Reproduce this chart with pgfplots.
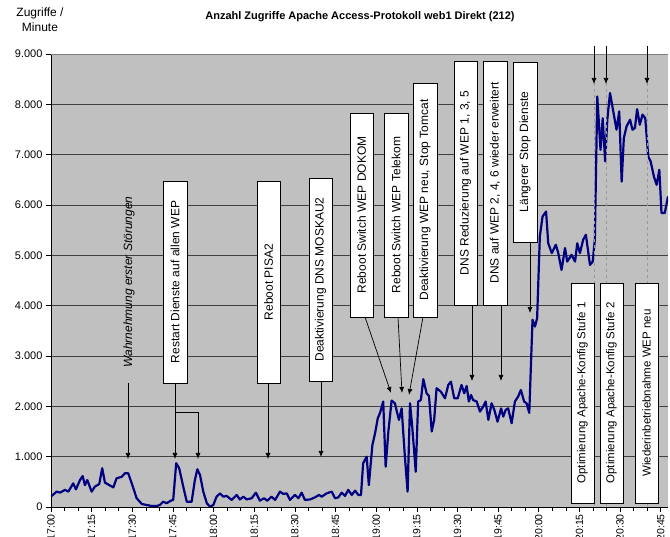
\documentclass[border=0pt]{standalone}
\usepackage{pgfplots}
\pgfplotsset{compat=1.18}
\usepackage{fontspec}
\setmainfont{Liberation Sans}
\usetikzlibrary{arrows.meta}
\definecolor{bgray}{HTML}{C0C0C0}
\definecolor{navy}{HTML}{000080}
\newcommand{\boxfont}{\fontsize{12}{14}\selectfont}
\newcommand{\abox}[5]{%
  \draw[fill=white,line width=0.8pt] (#1,#2) rectangle (#3,#4);
  \node[rotate=90,font=\boxfont,inner sep=0pt] at ({(#1+#3)/2},{(#2+#4)/2}) {#5};}
\begin{document}
\begin{tikzpicture}
\begin{axis}[
  at={(51pt,30pt)}, anchor=south west,
  scale only axis, width=617pt, height=453pt,
  xmin=0, xmax=227.7, ymin=0, ymax=9000,
  axis background/.style={fill=bgray},
  axis x line*=bottom, axis y line*=left,
  axis line style={black, line width=0.8pt, -},
  xtick={0,15,...,225},
  xticklabels={17:00,17:15,17:30,17:45,18:00,18:15,18:30,18:45,19:00,19:15,19:30,19:45,20:00,20:15,20:30,20:45},
  minor xtick={0,5,...,225},
  ytick={0,1000,...,9000},
  tick align=outside,
  major tick length=5pt, minor tick length=4pt,
  tick style={black, line width=0.6pt},
  ymajorgrids, grid style={black!75, line width=0.7pt},
  xticklabel style={rotate=90, anchor=east, font=\fontsize{10.5}{12}\selectfont, inner sep=2pt},
  yticklabel style={font=\fontsize{11}{13}\selectfont},
  scaled y ticks=false,
  /pgf/number format/.cd, 1000 sep={.}, assume math mode=true,
]
\addplot[navy, line width=2.2pt, line join=round] coordinates {
(0,210)(2.1,305)(3.3,285)(5.2,340)(6.4,305)(8.2,470)(9.2,350)(10.7,535)(11.7,615)(12.5,435)(13.4,535)
(15.0,305)(16.2,405)(17.8,455)(18.9,770)(19.9,485)(21.5,435)(23.0,390)(24.2,570)(26.1,600)(27.3,670)
(28.5,670)(29.8,470)(31.6,175)(33.5,60)(35.3,40)(37.2,20)(39.0,20)(40.2,40)(41.4,105)(42.7,75)(44.2,125)
(45.1,140)(46.2,870)(47.3,770)(48.8,405)(50.1,105)(51.9,105)(53.1,535)(54.0,750)(55.0,635)(56.2,305)
(57.5,75)(58.7,5)(59.9,40)(61.1,205)(62.4,270)(63.6,205)(64.8,220)(66.7,140)(67.9,205)(68.5,240)
(69.7,150)(71.0,205)(72.2,150)(74.1,175)(75.6,285)(77.1,125)(78.6,175)(79.8,125)(81.4,205)(82.7,140)
(84.5,305)(85.7,260)(87.0,270)(88.2,140)(90.0,240)(91.3,175)(92.5,285)(93.7,140)(95.6,150)(97.4,190)
(98.9,240)(99.9,205)(101.7,270)(103.6,305)(104.8,175)(106.0,190)(107.3,285)(108.5,220)(109.7,340)
(111.0,240)(112.2,325)(113.4,240)(114.4,240)(115.2,870)(116.5,1000)(117.3,435)(118.6,1230)(119.6,1465)
(120.6,1765)(121.4,1865)(122.6,2095)(123.5,800)(124.5,1500)(125.7,2115)(126.9,2060)(128.4,1730)
(129.4,1960)(130.6,1000)(131.6,305)(132.5,2060)(133.3,1600)(134.6,700)(135.5,2095)(136.5,2125)
(137.4,2540)(138.6,2260)(139.5,2205)(140.5,1500)(141.4,1730)(142.3,2360)(143.9,2290)(145.4,2160)
(146.6,2425)(147.6,2490)(148.8,2160)(150.1,2160)(151.5,2425)(152.5,2260)(153.4,2405)(154.2,2095)
(155.0,2225)(155.8,2125)(157.1,2095)(158.3,1895)(159.5,1995)(160.4,2095)(161.4,1730)(162.6,2060)
(163.6,1930)(164.8,1695)(166.1,1960)(166.9,1795)(167.8,1930)(168.7,1960)(170.0,1665)(171.2,2095)
(172.4,2195)(173.4,2325)(174.6,2095)(175.5,2060)(176.5,1870)(177.7,3720)(178.6,3585)(179.4,3750)
(180.4,5375)(181.4,5770)(182.7,5870)(183.5,5240)(184.8,5045)(186.3,5210)(187.2,5045)(188.4,4710)
(189.7,5145)(190.5,4875)(192.1,5010)(193.4,4875)(194.2,5240)(195.2,5045)(196.4,5310)(197.4,5410)
(198.9,4810)(199.9,4875)(200.7,5310)(201.6,8155)(202.8,7095)(203.6,7725)(204.5,6865)(205.3,7695)
(206.3,8225)(207.5,7860)(208.7,7495)(209.7,7860)(210.6,6465)(211.4,7330)(212.4,7560)(213.7,7695)
(214.6,7495)(215.5,7530)(216.3,7905)(217.3,7595)(218.3,7795)(219.3,7725)(220.4,6965)(221.3,6865)
(222.5,6565)(223.5,6400)(224.5,6700)(225.3,5840)(226.5,5840)(227.7,6170)
};
\end{axis}
\begin{scope}[x=1pt, y=-1pt, shift={(0pt,537pt)}]
  % titles
  \node[font=\bfseries\fontsize{11}{13}\selectfont] at (360,17) {Anzahl Zugriffe Apache Access-Protokoll web1 Direkt (212)};
  \node[font=\fontsize{12}{15}\selectfont, align=center, inner sep=0pt] at (40,20) {Zugriffe /\\Minute};
  % top border of plot area
  \draw[black!50, line width=0.8pt] (51,54) -- (668,54);
  % dashed helper lines
  \foreach \xx in {594,606,647} {
    \draw[black!40, dashed, line width=0.7pt] (\xx,83) -- (\xx,507);
    \draw[black, line width=0.7pt, -{Latex[length=6pt,width=5pt]}] (\xx,46) -- (\xx,84);
  }
  % arrows
  \begin{scope}[black, line width=0.7pt]
    \draw[-{Latex[length=6pt,width=5pt]}] (128,383) -- (128,459);
    \draw[-{Latex[length=6pt,width=5pt]}] (175,383) -- (175,459);
    \draw[-{Latex[length=6pt,width=5pt]}] (175,412) -- (198,412) -- (198,459);
    \draw[-{Latex[length=6pt,width=5pt]}] (268,383) -- (268,459);
    \draw[-{Latex[length=6pt,width=5pt]}] (321,381) -- (321,457);
    \draw[-{Latex[length=6pt,width=5pt]}] (365,317) -- (391,393);
    \draw[-{Latex[length=6pt,width=5pt]}] (398,317) -- (402,393);
    \draw[-{Latex[length=6pt,width=5pt]}] (423,317) -- (409,395);
    \draw[-{Latex[length=6pt,width=5pt]}] (472,305) -- (472,381);
    \draw[-{Latex[length=6pt,width=5pt]}] (501,305) -- (501,381);
    \draw[-{Latex[length=6pt,width=5pt]}] (530,242) -- (530,313);
  \end{scope}
  % annotation text and boxes
  \node[rotate=90, font=\itshape\fontsize{12}{14}\selectfont] at (129,282) {Wahrnehmung erster Störungen};
  \abox{163}{181}{187}{383}{Restart Dienste auf allen WEP}
  \abox{257}{181}{280}{383}{Reboot PISA2}
  \abox{309}{178}{332}{381}{Deaktivierung DNS MOSKAU2}
  \abox{350}{113}{373}{317}{Reboot Switch WEP DOKOM}
  \abox{384}{113}{408}{317}{Reboot Switch WEP Telekom}
  \abox{413}{83}{437}{317}{Deaktivierung WEP neu, Stop Tomcat}
  \abox{454}{61}{477}{305}{DNS Reduzierung auf WEP 1, 3, 5}
  \abox{483}{61}{507}{305}{DNS auf WEP 2, 4, 6 wieder erweitert}
  \abox{513}{62}{537}{242}{Längerer Stop Dienste}
  \renewcommand{\boxfont}{\fontsize{11.5}{14}\selectfont}
  \abox{571}{283}{594}{503}{Optimierung Apache-Konfig Stufe 1}
  \abox{600}{283}{623}{503}{Optimierung Apache-Konfig Stufe 2}
  \abox{635}{283}{658}{503}{Wiederinbetriebnahme WEP neu}
  \pgfresetboundingbox
  \path (0,0) rectangle (670,537);
\end{scope}
\end{tikzpicture}
\end{document}
